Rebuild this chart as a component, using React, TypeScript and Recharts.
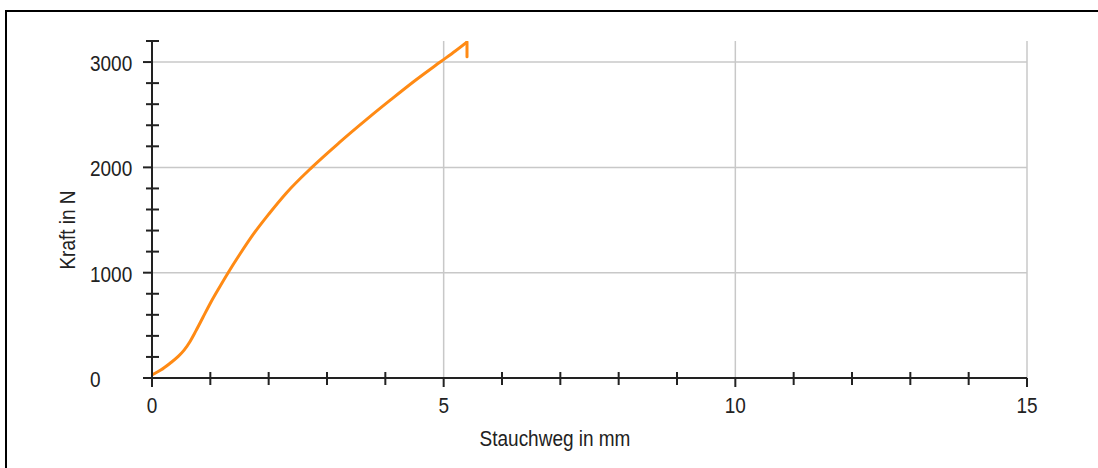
import { CartesianGrid, Line, LineChart, XAxis, YAxis } from "recharts";

// Stauchweg (mm) and Kraft (N)
const STAUCHWEG = [
  0, 0.15, 0.31, 0.45, 0.55, 0.65, 0.75, 0.87, 1.0, 1.15, 1.3, 1.5, 1.75, 2.0,
  2.3, 2.74, 3.2, 3.7, 4.1, 4.5, 4.94, 5.2, 5.4
];
const KRAFT = [
  30, 75, 140, 205, 265, 345, 445, 572, 710, 855, 995, 1170, 1375, 1555,
  1755, 2000, 2230, 2465, 2645, 2820, 3000, 3105, 3190
];
// drop at the break
const BRUCH_WEG = [5.4, 5.4];
const BRUCH_KRAFT = [3190, 3050];

const X_TICKS = [0, 1, 2, 3, 4, 5, 6, 7, 8, 9, 10, 11, 12, 13, 14, 15];
const Y_TICKS = [
  0, 200, 400, 600, 800, 1000, 1200, 1400, 1600, 1800, 2000, 2200, 2400, 2600,
  2800, 3000, 3200
];
const X_LABELS = [0, 5, 10, 15];
const Y_LABELS = [0, 1000, 2000, 3000];

const FONT = '"Liberation Sans", Arial, sans-serif';
const TEXT = "#222";
const AXIS = "#222";
const ORANGE = "#ff8a14";

const kurve = STAUCHWEG.map((x, i) => ({ x, kraft: KRAFT[i] }));
const bruch = BRUCH_WEG.map((x, i) => ({ x, kraft: BRUCH_KRAFT[i] }));

// the reference text is a bit taller than plain Arial, so stretch it vertically
function StretchText(props: { x: number; y: number; anchor?: string; rotate?: number; children: any }) {
  const { x, y, anchor = "middle", rotate = 0, children } = props;
  return (
    <text
      transform={`translate(${x} ${y}) rotate(${rotate}) scale(1 1.17)`}
      x={0}
      y={0}
      textAnchor={anchor}
      dominantBaseline="central"
      fontFamily={FONT}
      fontSize={19}
      fill={TEXT}
    >
      {children}
    </text>
  );
}

function XTick(props: any) {
  const { x, y, payload } = props;
  const v = payload.value as number;
  const major = X_LABELS.includes(v);
  return (
    <g>
      {major ? (
        <line x1={x} x2={x} y1={y} y2={y + 9} stroke={AXIS} strokeWidth={2} />
      ) : (
        <line x1={x} x2={x} y1={y - 6} y2={y + 7} stroke={AXIS} strokeWidth={2} />
      )}
      {major && <StretchText x={x} y={y + 27}>{v}</StretchText>}
    </g>
  );
}

function YTick(props: any) {
  const { x, y, payload } = props;
  const v = payload.value as number;
  const major = Y_LABELS.includes(v);
  return (
    <g>
      {major ? (
        <line x1={x - 9} x2={x} y1={y} y2={y} stroke={AXIS} strokeWidth={2} />
      ) : (
        <line x1={x - 6} x2={x + 7} y1={y} y2={y} stroke={AXIS} strokeWidth={2} />
      )}
      {major && (
        <StretchText x={x - 62} y={y + 1} anchor="start">
          {v}
        </StretchText>
      )}
    </g>
  );
}

export default function App() {
  return (
    <div style={{ position: "absolute", left: 0, top: 0, width: 1098, height: 468, background: "#fff", overflow: "hidden" }}>
      <div style={{ position: "absolute", left: 5, top: 10, width: 1093, height: 2, background: "#000" }} />
      <div style={{ position: "absolute", left: 5, top: 10, width: 2, height: 458, background: "#000" }} />
      <div style={{ position: "absolute", left: 0, top: 0 }}>
        <LineChart width={1098} height={468} margin={{ top: 41, right: 71, bottom: 0, left: 0 }}>
          <CartesianGrid
            horizontal
            vertical
            horizontalValues={[1000, 2000, 3000]}
            verticalValues={[5, 10, 15]}
            stroke="#c8c8c8"
            strokeWidth={1.5}
          />
          <XAxis
            dataKey="x"
            type="number"
            domain={[0, 15]}
            ticks={X_TICKS}
            interval={0}
            tickSize={0}
            tickMargin={0}
            tickLine={false}
            tick={<XTick />}
            axisLine={{ stroke: AXIS, strokeWidth: 2 }}
            height={90}
            allowDataOverflow
            allowDuplicatedCategory={false}
            label={(p: any) => <StretchText x={555} y={p.viewBox.y + 60}>Stauchweg in mm</StretchText>}
          />
          <YAxis
            type="number"
            domain={[0, 3200]}
            ticks={Y_TICKS}
            interval={0}
            tickSize={0}
            tickMargin={0}
            tickLine={false}
            tick={<YTick />}
            axisLine={{ stroke: AXIS, strokeWidth: 2 }}
            width={152}
            allowDataOverflow
            label={() => (
              <StretchText x={67} y={230} rotate={-90}>
                Kraft in N
              </StretchText>
            )}
          />
          <Line
            data={kurve}
            type="monotone"
            dataKey="kraft"
            stroke={ORANGE}
            strokeWidth={3}
            dot={false}
            activeDot={false}
            isAnimationActive={false}
            strokeLinejoin="round"
          />
          <Line
            data={bruch}
            type="linear"
            dataKey="kraft"
            stroke={ORANGE}
            strokeWidth={3}
            dot={false}
            activeDot={false}
            isAnimationActive={false}
            strokeLinecap="round"
          />
        </LineChart>
      </div>
    </div>
  );
}
